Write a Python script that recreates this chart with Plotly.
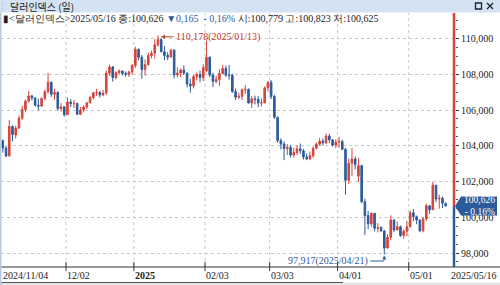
import pandas as pd
import plotly.graph_objects as go

# ---------------- data ----------------
holidays = ["2024-12-25", "2025-01-01"]
dates = [d.strftime("%Y/%m/%d") for d in pd.bdate_range("2024-11-04", "2025-05-16")
         if d.strftime("%Y-%m-%d") not in holidays]

opens = [104.28, 103.87, 103.45, 105.08, 104.60, 104.99, 105.54, 106.02, 106.49, 106.79,
         106.68, 106.27, 106.22, 106.65, 107.03, 107.55, 106.88, 106.98, 106.08, 106.18,
         105.74, 106.45, 106.36, 106.37, 105.76, 106.00, 106.17, 106.41, 106.70, 106.96,
         106.99, 106.84, 106.95, 108.06, 108.41, 107.82, 108.09, 108.18, 108.05, 108.00,
         108.13,
         108.49, 109.39, 108.95, 108.26, 108.54, 109.05, 109.18, 109.65, 109.94, 109.26,
         109.05, 108.96, 109.35, 107.97, 108.07, 108.24, 108.07, 107.45, 107.35, 107.87,
         107.99, 107.81,
         108.20, 108.95, 107.96, 107.60, 107.71, 108.04, 108.32, 107.95, 107.94, 107.03,
         106.71, 106.77, 107.13, 107.16, 106.39, 106.62, 106.60, 106.39, 106.40, 107.24,
         107.55, 106.76, 105.59, 104.29, 104.10, 103.84, 103.91, 103.48, 103.62, 103.83,
         103.72, 103.37, 103.26, 103.44, 103.86, 104.09, 104.26, 104.17, 104.54, 104.33,
         104.04,
         104.21, 104.24, 103.80, 102.07, 103.02, 103.26, 102.30, 102.89, 100.87, 100.10,
         99.63, 100.22, 99.38, 99.42, 99.23, 98.28, 98.88, 99.85, 99.29, 99.47,
         98.98, 99.22,
         99.47, 100.25, 100.03, 99.84, 99.24, 99.91, 100.64, 100.42, 101.79, 101.02,
         101.06, 100.779]
highs = [104.35, 104.00, 105.44, 105.15, 105.12, 105.70, 106.24, 106.59, 107.07, 106.84,
         106.69, 106.63, 106.70, 107.13, 108.07, 107.60, 107.18, 107.05, 106.39, 106.21,
         106.70, 106.60, 106.57, 106.40, 106.18, 106.26, 106.44, 106.79, 107.02, 107.18,
         107.04, 107.12, 108.21, 108.54, 108.45, 108.17, 108.27, 108.21, 108.16, 108.20,
         108.58,
         109.54, 109.45, 109.08, 108.83, 109.21, 109.33, 109.96, 110.178, 110.02, 109.58,
         109.24, 109.42, 109.40, 108.38, 108.33, 108.50, 108.09, 107.75, 107.98, 108.10,
         108.20, 108.56,
         109.88, 109.00, 108.09, 107.91, 108.27, 108.51, 108.49, 108.52, 108.04, 107.20,
         106.98, 107.20, 107.40, 107.20, 106.77, 106.80, 106.77, 106.65, 107.32, 107.61,
         107.67, 106.85, 105.62, 104.41, 104.24, 104.09, 104.03, 103.89, 104.02, 104.13,
         103.82, 103.57, 103.68, 103.96, 104.18, 104.43, 104.41, 104.68, 104.67, 104.38,
         104.36,
         104.50, 104.33, 103.87, 103.29, 103.88, 103.40, 103.33, 102.94, 101.04, 100.35,
         100.27, 100.24, 99.68, 99.50, 99.30, 99.05, 100.11, 99.88, 99.76, 99.54,
         99.32, 99.80,
         100.38, 100.47, 100.10, 99.89, 100.00, 100.76, 100.68, 101.98, 101.79, 101.27,
         101.15, 100.823]
lows = [103.62, 103.37, 103.37, 104.26, 104.40, 104.95, 105.45, 105.87, 106.43, 106.54,
        106.20, 105.97, 106.17, 106.55, 106.91, 106.74, 106.58, 105.97, 105.91, 105.63,
        105.72, 106.17, 106.11, 105.73, 105.71, 105.87, 106.06, 106.37, 106.59, 106.79,
        106.70, 106.77, 106.85, 107.90, 107.59, 107.72, 107.97, 107.93, 107.87, 107.85,
        107.97,
        108.36, 108.78, 107.75, 107.92, 108.47, 108.89, 108.88, 109.53, 109.23, 108.79,
        108.79, 108.95, 107.76, 107.82, 107.84, 107.97, 107.26, 106.97, 107.21, 107.64,
        107.55, 107.62,
        108.10, 107.84, 107.28, 107.49, 107.35, 108.03, 107.86, 107.70, 106.96, 106.56,
        106.62, 106.56, 106.90, 106.36, 106.12, 106.31, 106.17, 106.20, 106.37, 107.04,
        106.61, 105.51, 104.17, 103.80, 103.20, 103.48, 103.34, 103.34, 103.47, 103.54,
        103.23, 103.19, 103.21, 103.31, 103.80, 103.99, 104.02, 104.09, 104.16, 103.95,
        103.87,
        103.88, 103.76, 101.26, 101.86, 102.31, 102.69, 101.97, 100.78, 99.01, 99.33,
        99.47, 99.21, 99.15, 99.20, 97.917, 98.25, 98.71, 99.17, 99.27, 98.90,
        98.79, 98.93,
        99.43, 99.78, 99.61, 99.17, 99.16, 99.80, 100.19, 100.42, 100.84, 100.48,
        100.51, 100.625]
closes = [103.87, 103.43, 105.08, 104.63, 104.99, 105.54, 106.02, 106.49, 106.79, 106.68,
          106.27, 106.22, 106.65, 107.03, 107.55, 106.88, 106.98, 106.08, 106.18, 105.74,
          106.45, 106.36, 106.37, 105.76, 106.00, 106.17, 106.41, 106.70, 106.96, 106.99,
          106.84, 106.95, 108.06, 108.41, 107.82, 108.09, 108.18, 108.05, 108.00, 108.13,
          108.49,
          109.39, 108.95, 108.26, 108.54, 109.05, 109.18, 109.65, 109.94, 109.26, 109.05,
          108.96, 109.35, 107.97, 108.07, 108.24, 108.07, 107.45, 107.35, 107.87, 107.99,
          107.81, 108.37,
          108.95, 107.96, 107.60, 107.71, 108.04, 108.32, 107.95, 107.94, 107.03, 106.71,
          106.77, 107.13, 107.16, 106.39, 106.62, 106.60, 106.39, 106.40, 107.24, 107.55,
          106.76, 105.59, 104.29, 104.10, 103.84, 103.91, 103.48, 103.62, 103.83, 103.72,
          103.37, 103.26, 103.44, 103.86, 104.09, 104.26, 104.17, 104.54, 104.33, 104.04,
          104.21,
          104.24, 103.80, 102.07, 103.02, 103.26, 102.95, 102.89, 100.87, 100.10, 99.63,
          100.22, 99.38, 99.42, 99.23, 98.28, 98.88, 99.85, 99.29, 99.47, 98.98,
          99.22, 99.47,
          100.25, 100.03, 99.84, 99.24, 99.91, 100.64, 100.42, 101.79, 101.02, 101.06,
          100.79, 100.626]

y_ticks = [98, 100, 102, 104, 106, 108, 110]
y_tick_text = ["98,000", "100,000", "102,000", "104,000", "106,000", "108,000", "110,000"]
x_tick_dates = ["2024/12/02", "2025/01/02", "2025/02/03", "2025/03/03", "2025/04/01", "2025/05/01"]
x_tick_text = ["12/02", "<b>2025</b>", "02/03", "03/03", "04/01", "05/01"]
first_label = "2024/11/04"
last_label = "2025/05/16"
high_text, high_date = "110,178(2025/01/13)", "2025/01/13"
low_text, low_date = "97,917(2025/04/21)", "2025/04/21"
low_val, high_val = 97.917, 110.178
last_price = 100.626
price_text = ["100,626", "- 0.16%"]
title_text = "달러인덱스 (일)"
info_text = ("▮&lt;달러인덱스&gt;2025/05/16 종:100,626 "
             "<span style='color:#2b5aa0'>▼0,165  - 0,16%</span> "
             "시:100,779 고:100,823 저:100,625")

# ---------------- style ----------------
RED = "#d5453c"
BLUE = "#2d5b9c"
GRID = "#c9c9c9"
FONT = "Liberation Sans Narrow"
KFONT = "Noto Sans CJK KR"
FS = 10

W, H = 500, 285
L, R, T, B = 1, 45, 13, 18
PW, PH = W - L - R, H - T - B
YR = [97.217, 111.427]
XR = [-0.557, 139.87]


def px(X):
    return (X - L) / PW


def py(Y):
    return (H - B - Y) / PH


def xpix(i):
    return L + (i - XR[0]) / (XR[1] - XR[0]) * PW


def ypaper(v):
    return (v - YR[0]) / (YR[1] - YR[0])


fig = go.Figure()
fig.add_trace(go.Candlestick(
    x=dates, open=opens, high=highs, low=lows, close=closes,
    increasing=dict(line=dict(color=RED, width=1), fillcolor=RED),
    decreasing=dict(line=dict(color=BLUE, width=1), fillcolor=BLUE),
    whiskerwidth=0, hoverinfo="skip", showlegend=False,
))

shapes = []
annos = []


def label(X, Y, text, color="#222222", anchor="left", family=FONT, size=FS):
    annos.append(dict(xref="paper", yref="paper", x=px(X), y=py(Y), text=text,
                      showarrow=False, xanchor=anchor, yanchor="middle", borderpad=0,
                      font=dict(family=family, size=size, color=color)))


# vertical grid + tick marks + x labels
tick_idx = [dates.index(d) - 0.45 for d in x_tick_dates]
for ti, tt in zip(tick_idx, x_tick_text):
    X = xpix(ti)
    shapes.append(dict(type="line", xref="paper", yref="paper", x0=px(X), x1=px(X), y0=0, y1=1,
                       line=dict(color=GRID, width=1, dash="dot"), layer="below"))
    shapes.append(dict(type="line", xref="paper", yref="paper", x0=px(X), x1=px(X),
                       y0=py(262), y1=py(271), line=dict(color="#333333", width=1)))
    label(X, 275.5, tt)
label(1.5, 275.5, first_label)
label(498.5, 275.5, last_label, anchor="right")

# x axis line and bottom strip
shapes.append(dict(type="line", xref="paper", yref="paper", x0=px(0), x1=px(500),
                   y0=py(267), y1=py(267), line=dict(color="#333333", width=1)))
shapes.append(dict(type="rect", xref="paper", yref="paper", x0=px(0), x1=px(500),
                   y0=py(282.5), y1=py(286), fillcolor="#e4e4e4", line=dict(width=0)))
shapes.append(dict(type="line", xref="paper", yref="paper", x0=px(0), x1=px(343),
                   y0=py(282.5), y1=py(282.5), line=dict(color="#555555", width=1)))

# left border strip
shapes.append(dict(type="rect", xref="paper", yref="paper", x0=px(0), x1=px(1.5),
                   y0=py(285), y1=py(12), fillcolor="#b9c9da", line=dict(width=0)))

# title bar
shapes.append(dict(type="rect", xref="paper", yref="paper", x0=px(0), x1=px(500),
                   y0=py(12.5), y1=py(0), fillcolor="#d3e3f3", line=dict(width=0)))
for gy in (3, 6, 9):
    shapes.append(dict(type="rect", xref="paper", yref="paper", x0=px(2), x1=px(3),
                       y0=py(gy + 0.5), y1=py(gy - 0.5), fillcolor="#8fa3b8", line=dict(width=0)))
label(9, 6, title_text, family=KFONT, size=10)
shapes.append(dict(type="rect", xref="paper", yref="paper", x0=px(475.5), x1=px(481.5),
                   y0=py(9), y1=py(3), line=dict(color="#222222", width=1.3)))
shapes.append(dict(type="line", xref="paper", yref="paper", x0=px(487), x1=px(493),
                   y0=py(3), y1=py(9), line=dict(color="#222222", width=1.3)))
shapes.append(dict(type="line", xref="paper", yref="paper", x0=px(487), x1=px(493),
                   y0=py(9), y1=py(3), line=dict(color="#222222", width=1.3)))

# info line
label(1.5, 18.5, info_text)

# colored price axis line
yp = ypaper(last_price)
shapes.append(dict(type="line", xref="paper", yref="paper", x0=px(454), x1=px(454),
                   y0=yp, y1=py(13), line=dict(color=RED, width=2.5)))
shapes.append(dict(type="line", xref="paper", yref="paper", x0=px(454), x1=px(454),
                   y0=py(267), y1=yp, line=dict(color=BLUE, width=2.5)))

# price label
Yc = H - B - yp * PH
path = "M {} {} L {} {} L {} {} L {} {} L {} {} Z".format(
    px(455), yp,
    px(461), py(Yc - 9.5), px(497), py(Yc - 9.5),
    px(497), py(Yc + 9.5), px(461), py(Yc + 9.5))
shapes.append(dict(type="path", xref="paper", yref="paper", path=path,
                   fillcolor="#2c5a9a", line=dict(width=0), layer="above"))
annos.append(dict(xref="paper", yref="paper", x=px(495.5), y=py(Yc), borderpad=0,
                  text=price_text[0] + "<br>" + price_text[1], align="right",
                  showarrow=False, xanchor="right", yanchor="middle",
                  font=dict(family=FONT, size=9.5, color="white")))

# high annotation
hi = dates.index(high_date)
hx = xpix(hi)
hy = H - B - ypaper(high_val) * PH
annos.append(dict(xref="paper", yref="paper", x=px(hx + 3), y=py(hy + 1.5),
                  ax=14, ay=0, text="", showarrow=True, arrowhead=2, arrowsize=0.8,
                  arrowwidth=1, arrowcolor="#c0392b"))
label(hx + 17, hy + 2, high_text, color="#c0392b")

# low annotation
li = dates.index(low_date)
lx = xpix(li)
ly = H - B - ypaper(low_val) * PH
annos.append(dict(xref="paper", yref="paper", x=px(lx), y=py(ly + 1),
                  ax=0, ay=261 - (ly + 1), text="", showarrow=True, arrowhead=2,
                  arrowsize=0.8, arrowwidth=1, arrowcolor="#2d5b9c"))
shapes.append(dict(type="line", xref="paper", yref="paper", x0=px(lx - 14), x1=px(lx),
                   y0=py(261), y1=py(261), line=dict(color="#2d5b9c", width=1)))
label(lx - 15, 260.5, low_text, color="#2d5b9c", anchor="right")

fig.update_layout(
    width=W, height=H,
    margin=dict(l=L, r=R, t=T, b=B, pad=0),
    paper_bgcolor="white", plot_bgcolor="white",
    shapes=shapes, annotations=annos,
    xaxis=dict(type="category", range=XR, showticklabels=False, showgrid=False,
               zeroline=False, showline=False, ticks="", rangeslider=dict(visible=False),
               fixedrange=True),
    yaxis=dict(side="right", range=YR, tickvals=y_ticks, ticktext=y_tick_text,
               showgrid=True, gridcolor=GRID, griddash="dot", gridwidth=1,
               zeroline=False, showline=False, ticks="outside", ticklen=3,
               tickcolor="#333333",
               minor=dict(dtick=0.5, ticks="outside", ticklen=2, tickcolor="#555555",
                          showgrid=False),
               tickfont=dict(family=FONT, size=FS, color="#222222"), fixedrange=True),
    showlegend=False,
)

fig.write_html("out.html", config=dict(displayModeBar=False))
